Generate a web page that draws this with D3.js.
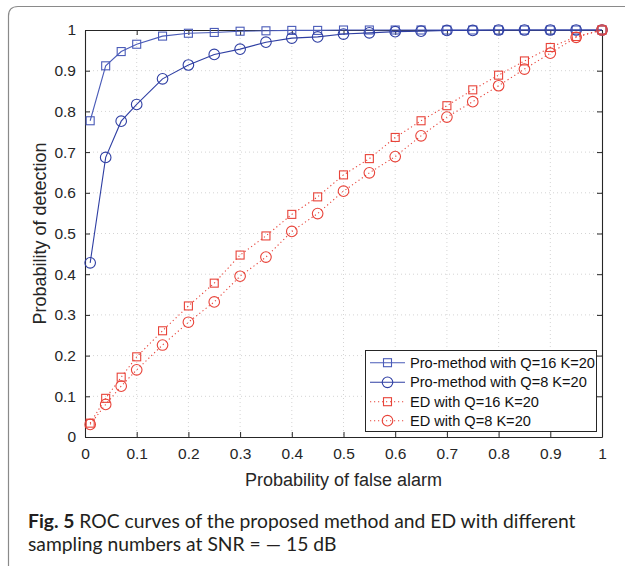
<!DOCTYPE html>
<html><head><meta charset="utf-8">
<script src="https://cdn.jsdelivr.net/npm/d3@7"></script>
<style>body{margin:0;background:#fff}svg{display:block}</style>
</head><body>
<script>
const xVals = [0.01,0.04,0.07,0.1,0.15,0.2,0.25,0.3,0.35,0.4,0.45,0.5,0.55,0.6,0.65,0.7,0.75,0.8,0.85,0.9,0.95,1];
const pro16 = [0.777,0.912,0.947,0.965,0.985,0.992,0.994,0.997,0.998,0.999,0.999,1,1,1,1,1,1,1,1,1,1,1];
const pro8  = [0.428,0.687,0.776,0.817,0.880,0.914,0.940,0.953,0.970,0.980,0.983,0.990,0.993,0.996,0.997,0.999,0.999,1,1,1,1,1];
const ed16  = [0.034,0.095,0.147,0.197,0.261,0.322,0.378,0.447,0.494,0.547,0.590,0.644,0.684,0.736,0.777,0.814,0.853,0.889,0.924,0.957,0.984,1];
const ed8   = [0.031,0.080,0.125,0.165,0.226,0.282,0.332,0.395,0.442,0.505,0.549,0.604,0.649,0.689,0.740,0.786,0.824,0.863,0.904,0.943,0.982,1];
const tickVals = [0,0.1,0.2,0.3,0.4,0.5,0.6,0.7,0.8,0.9,1];
const tickLabels = ["0","0.1","0.2","0.3","0.4","0.5","0.6","0.7","0.8","0.9","1"];
const seriesNames = ["Pro-method with Q=16 K=20","Pro-method with Q=8 K=20","ED with Q=16 K=20","ED with Q=8 K=20"];

const W=625,H=566;
const svg=d3.select("body").append("svg").attr("width",W).attr("height",H);
const L=85,R=602,T=30,B=437;
const x=d3.scaleLinear().domain([0,1]).range([L,R]);
const y=d3.scaleLinear().domain([0,1]).range([B,T]);
const axisCol="#262626";
const font="'Liberation Sans', Arial, sans-serif";

// outer frame (left + top with rounded corner)
svg.append("path").attr("d",`M8.5,${H} L8.5,16 Q8.5,6.5 18,6.5 L${W},6.5`)
  .attr("fill","none").attr("stroke","#8a8a8a").attr("stroke-width",1.2);

// grid
const g=svg.append("g");
g.selectAll(".gx").data(tickVals.slice(1,-1)).enter().append("line")
  .attr("x1",d=>x(d)).attr("x2",d=>x(d)).attr("y1",T).attr("y2",B)
  .attr("stroke","#d4d4d4").attr("stroke-width",1).attr("stroke-dasharray","1,3");
g.selectAll(".gy").data(tickVals.slice(1,-1)).enter().append("line")
  .attr("y1",d=>y(d)).attr("y2",d=>y(d)).attr("x1",L).attr("x2",R)
  .attr("stroke","#d4d4d4").attr("stroke-width",1).attr("stroke-dasharray","1,3");

// axes
const fmt=d=>tickLabels[tickVals.indexOf(d)];
const xAxis=d3.axisBottom(x).tickValues(tickVals).tickFormat(fmt).tickSize(-5).tickSizeOuter(0).tickPadding(11);
const yAxis=d3.axisLeft(y).tickValues(tickVals).tickFormat(fmt).tickSize(-5).tickSizeOuter(0).tickPadding(9);
const xTop=d3.axisTop(x).tickValues(tickVals).tickFormat("").tickSize(-5).tickSizeOuter(0);
const yRight=d3.axisRight(y).tickValues(tickVals).tickFormat("").tickSize(-5).tickSizeOuter(0);
function style(sel){sel.selectAll("path").attr("stroke",axisCol).attr("stroke-width",1.1);
  sel.selectAll("line").attr("stroke",axisCol);
  sel.selectAll("text").attr("fill","#262626").style("font-family",font).style("font-size","15.5px");}
svg.append("g").attr("transform",`translate(0,${B})`).call(xAxis).call(style);
svg.append("g").attr("transform",`translate(${L},0)`).call(yAxis).call(style);
svg.append("g").attr("transform",`translate(0,${T})`).call(xTop).call(style);
svg.append("g").attr("transform",`translate(${R},0)`).call(yRight).call(style);

// labels
svg.append("text").attr("x",(L+R)/2).attr("y",486).attr("text-anchor","middle")
  .style("font-family",font).style("font-size","18px").attr("fill","#262626").text("Probability of false alarm");
svg.append("text").attr("transform",`translate(46,${(T+B)/2}) rotate(-90)`).attr("text-anchor","middle")
  .style("font-family",font).style("font-size","18px").attr("fill","#262626").text("Probability of detection");

// series
const series=[
 {name:seriesNames[0],vals:pro16,color:"#4a5bb8",dash:null,marker:"square"},
 {name:seriesNames[1],vals:pro8,color:"#2f3fa3",dash:null,marker:"circle"},
 {name:seriesNames[2],vals:ed16,color:"#e8443a",dash:"1.2,2.8",marker:"square"},
 {name:seriesNames[3],vals:ed8,color:"#e8443a",dash:"1.2,2.8",marker:"circle"}];
const line=d3.line().x(d=>x(d[0])).y(d=>y(d[1]));
function drawMarker(sel,m,c){
  if(m==="square") sel.append("rect").attr("x",-4).attr("y",-4).attr("width",8).attr("height",8)
    .attr("fill","none").attr("stroke",c).attr("stroke-width",1.1);
  else sel.append("circle").attr("r",5.3).attr("fill","none").attr("stroke",c).attr("stroke-width",1.1);
}
series.forEach(s=>{
  const pts=xVals.map((v,i)=>[v,s.vals[i]]);
  svg.append("path").attr("d",line(pts)).attr("fill","none").attr("stroke",s.color)
    .attr("stroke-width",1.1).attr("stroke-dasharray",s.dash);
  pts.forEach(p=>{const gm=svg.append("g").attr("transform",`translate(${x(p[0])},${y(p[1])})`);drawMarker(gm,s.marker,s.color);});
});

// legend
const lg=svg.append("g");
lg.append("rect").attr("x",365.5).attr("y",350.5).attr("width",231).attr("height",81)
  .attr("fill","#fff").attr("stroke","#262626").attr("stroke-width",1);
const rowY=[362.7,382.3,401.7,420.7];
series.forEach((s,i)=>{
  lg.append("line").attr("x1",370).attr("x2",405).attr("y1",rowY[i]).attr("y2",rowY[i])
    .attr("stroke",s.color).attr("stroke-width",1.1).attr("stroke-dasharray",s.dash);
  drawMarker(lg.append("g").attr("transform",`translate(387.5,${rowY[i]})`),s.marker,s.color);
  lg.append("text").attr("x",410).attr("y",rowY[i]).attr("dy","0.35em")
    .style("font-family",font).style("font-size","14.6px").attr("fill","#111").text(s.name);
});

// caption
const capFont="Lato, 'Open Sans', sans-serif";
const cap=svg.append("text").attr("x",28).attr("y",528)
  .style("font-family",capFont).style("font-size","19.3px").attr("fill","#231f20");
cap.append("tspan").style("font-weight","bold").text("Fig. 5");
cap.append("tspan").text(" ROC curves of the proposed method and ED with different");
svg.append("text").attr("x",28).attr("y",551)
  .style("font-family",capFont).style("font-size","19.3px").attr("fill","#231f20")
  .text("sampling numbers at SNR = \u2014 15 dB");
</script>
</body></html>
